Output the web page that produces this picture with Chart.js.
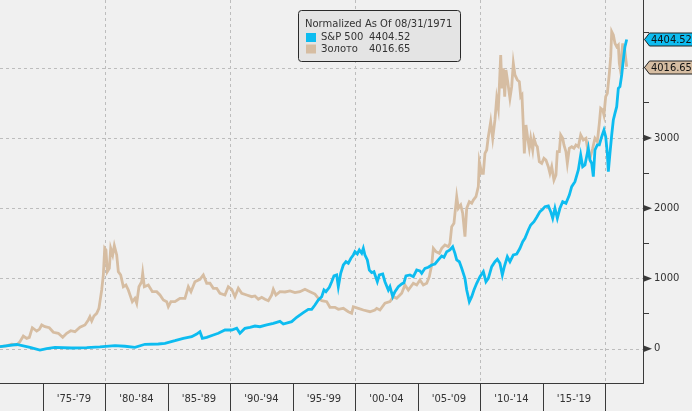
<!DOCTYPE html>
<html>
<head>
<meta charset="utf-8">
<script src="https://cdn.jsdelivr.net/npm/chart.js@4.4.1/dist/chart.umd.min.js"></script>
<style>
html,body{margin:0;padding:0;background:#f0f0f0;}
canvas{display:block;}
</style>
</head>
<body>
<canvas id="c" width="692" height="411"></canvas>
<script>
// ---------- DATA ----------
const legendTitle = 'Normalized As Of 08/31/1971';
const seriesNames = ['S&P 500', 'Золото'];

const spYears = [1971.58,1972.92,1973.98,1974.78,1975.32,1975.98,1977.32,1978.52,1979.58,1980.78,1981.58,1982.38,1983.18,1984.25,1984.78,1985.58,1986.25,1986.92,1987.32,1987.58,1987.77,1988.12,1988.65,1989.05,1989.58,1990.12,1990.52,1990.78,1991.18,1991.58,1991.98,1992.38,1992.92,1993.45,1993.98,1994.25,1994.92,1995.32,1995.85,1996.25,1996.52,1996.78,1997.05,1997.32,1997.50,1997.66,1997.93,1998.12,1998.30,1998.52,1998.65,1998.84,1999.05,1999.26,1999.45,1999.66,1999.85,1999.98,2000.17,2000.33,2000.52,2000.65,2000.78,2000.97,2001.13,2001.32,2001.50,2001.77,2001.93,2002.20,2002.38,2002.65,2002.78,2003.00,2003.18,2003.45,2003.72,2003.90,2004.06,2004.38,2004.65,2004.92,2005.18,2005.32,2005.58,2005.85,2006.12,2006.38,2006.65,2006.92,2007.10,2007.32,2007.58,2007.80,2007.98,2008.12,2008.33,2008.52,2008.78,2008.92,2009.13,2009.32,2009.50,2009.72,2009.98,2010.25,2010.46,2010.65,2010.92,2011.18,2011.37,2011.58,2011.77,2011.93,2012.17,2012.38,2012.65,2012.92,2013.18,2013.40,2013.58,2013.85,2014.04,2014.30,2014.52,2014.78,2015.00,2015.18,2015.45,2015.64,2015.80,2015.98,2016.17,2016.38,2016.60,2016.86,2017.13,2017.32,2017.58,2017.85,2018.04,2018.20,2018.38,2018.65,2018.78,2018.92,2019.05,2019.18,2019.37,2019.53,2019.72,2019.90,2020.04,2020.17,2020.25,2020.38,2020.52,2020.65,2020.78,2020.92,2021.05,2021.18,2021.32,2021.45,2021.58,2021.72];
const spValues = [30,60,20,-20,0,20,10,15,25,45,35,20,63,67,77,114,148,171,209,242,148,162,195,219,266,266,291,219,291,305,323,313,338,362,390,352,385,447,513,561,561,622,694,741,836,812,875,954,1036,1050,883,1074,1192,1239,1217,1288,1335,1382,1349,1406,1359,1430,1335,1264,1121,1083,1097,954,1050,1064,954,836,883,741,812,883,922,940,1036,1050,1026,1121,1107,1074,1145,1160,1192,1207,1264,1321,1302,1382,1406,1453,1359,1264,1239,1145,1003,836,670,741,836,932,1026,1097,954,1003,1168,1239,1274,1217,1050,1168,1310,1239,1335,1349,1430,1524,1573,1691,1762,1809,1872,1952,1986,2023,2033,1952,1858,2000,1858,2000,2094,2071,2189,2308,2379,2546,2759,2593,2617,2855,2688,2641,2450,2830,2902,2902,3020,3115,3020,2783,2521,2783,3044,3258,3353,3447,3709,3732,3899,4113,4302,4404.52];

const goldYears = [1971.58,1972.12,1972.52,1972.92,1973.18,1973.45,1973.72,1973.93,1974.17,1974.52,1974.73,1974.92,1975.18,1975.53,1975.85,1976.25,1976.60,1976.92,1977.24,1977.58,1977.98,1978.38,1978.65,1978.78,1978.92,1979.10,1979.32,1979.50,1979.58,1979.72,1979.85,1979.96,1980.06,1980.17,1980.33,1980.44,1980.60,1980.73,1980.92,1981.05,1981.24,1981.45,1981.66,1981.85,1982.17,1982.38,1982.52,1982.70,1982.92,1983.00,1983.13,1983.45,1983.77,1984.12,1984.38,1984.65,1984.92,1985.05,1985.26,1985.58,1985.98,1986.38,1986.65,1986.86,1987.18,1987.58,1987.85,1988.12,1988.38,1988.65,1988.92,1989.18,1989.58,1989.85,1990.12,1990.38,1990.65,1990.92,1991.32,1991.72,1991.98,1992.25,1992.52,1992.78,1993.05,1993.32,1993.45,1993.66,1993.98,1994.38,1994.78,1995.18,1995.58,1995.98,1996.38,1996.78,1997.05,1997.32,1997.72,1997.98,1998.38,1998.65,1999.05,1999.45,1999.72,1999.85,2000.25,2000.65,2001.18,2001.58,2001.72,2001.98,2002.38,2002.78,2003.05,2003.32,2003.72,2003.98,2004.25,2004.65,2004.92,2005.18,2005.45,2005.72,2005.93,2006.12,2006.25,2006.46,2006.73,2006.92,2007.18,2007.45,2007.58,2007.72,2007.90,2008.12,2008.25,2008.44,2008.60,2008.78,2008.92,2009.13,2009.32,2009.45,2009.66,2009.85,2009.93,2010.12,2010.25,2010.38,2010.52,2010.65,2010.84,2011.00,2011.18,2011.32,2011.45,2011.53,2011.64,2011.74,2011.85,2011.96,2012.06,2012.20,2012.38,2012.52,2012.65,2012.78,2012.97,2013.13,2013.24,2013.34,2013.45,2013.53,2013.66,2013.80,2013.93,2014.04,2014.20,2014.30,2014.46,2014.57,2014.73,2014.92,2015.10,2015.26,2015.45,2015.58,2015.72,2015.90,2016.06,2016.17,2016.33,2016.44,2016.60,2016.70,2016.86,2016.97,2017.13,2017.32,2017.50,2017.66,2017.85,2018.04,2018.25,2018.46,2018.65,2018.78,2019.00,2019.18,2019.37,2019.53,2019.64,2019.80,2019.90,2020.04,2020.17,2020.33,2020.44,2020.52,2020.65,2020.78,2020.92,2021.05,2021.13,2021.24,2021.32,2021.40,2021.50,2021.58,2021.72];
const goldValues = [30,40,63,53,100,181,148,162,299,252,276,338,313,299,234,219,162,219,256,242,305,338,409,456,395,466,504,575,670,836,1050,1430,1406,1097,1145,1430,1335,1467,1335,1097,1050,883,907,836,670,718,647,883,954,1074,883,907,812,812,765,694,670,598,670,670,718,718,883,812,954,989,1050,932,932,860,860,789,765,883,846,741,860,789,765,741,751,704,732,704,684,765,846,765,812,808,822,798,812,846,812,779,718,684,670,590,590,561,575,527,504,598,575,551,527,551,575,551,647,670,741,718,789,907,836,932,907,979,907,932,1026,1192,1430,1382,1359,1430,1477,1453,1501,1738,1786,2165,2000,2047,1929,1595,2000,2094,2071,2118,2165,2308,2664,2499,2499,2783,2830,3020,3234,2997,3258,3567,3424,3732,4184,3709,3994,3590,3970,3803,3567,3732,4065,3899,3828,3803,3590,3614,3162,2783,3187,2997,2855,2997,2830,2997,2902,2877,2664,2641,2712,2688,2593,2499,2593,2403,2474,2806,2806,3044,2997,2902,2806,2641,2855,2877,2855,2902,2877,3044,2973,2997,2783,2712,2855,2997,2949,3211,3424,3400,3329,3590,3638,3923,4160,4516,4469,4350,4302,4326,4065,3946,4184,4350,4160,4231,4016.65];

const periodStarts = [1975,1980,1985,1990,1995,2000,2005,2010,2015];
const periodLabels = ["'75-'79","'80-'84","'85-'89","'90-'94","'95-'99","'00-'04","'05-'09","'10-'14","'15-'19"];
const separatorYears = [1975,1980,1985,1990,1995,2000,2005,2010,2015,2020];
const gridYears = [1980,1990,2000,2010,2020];
const yTickValues = [0,500,1000,1500,2000,2500,3000,3500,4000,4500];
const yTickLabels = ['0','','1000','','2000','','3000','','',''];
const yMajorMarks = [0,1000,2000,3000];
const gridValues = [0,1000,2000,3000,4000];

// ---------- STYLE ----------
const FONT = 'DejaVu Sans';
const FONT_C = '"DejaVu Sans Condensed", "DejaVu Sans"';
const COL_SP = '#0dbcf0';
const COL_GOLD = '#d6bda2';
const TXT = '#333333';
const AXIS = '#3a3a3a';

const toPts = (xs, ys) => xs.map((x, i) => ({x: x, y: ys[i]}));

const decor = {
  id: 'decor',
  beforeDraw(chart) {
    const c = chart.ctx;
    c.save();
    c.fillStyle = '#f0f0f0';
    c.fillRect(0, 0, chart.width, chart.height);
    c.restore();
  },
  beforeDatasetsDraw(chart) {
    const c = chart.ctx, a = chart.chartArea, xs = chart.scales.x, ys = chart.scales.y;
    c.save();
    c.strokeStyle = '#bdbdbd';
    c.lineWidth = 1;
    c.setLineDash([3, 3]);
    gridYears.forEach(v => {
      const px = Math.round(xs.getPixelForValue(v)) + 0.5;
      c.beginPath(); c.moveTo(px, a.top); c.lineTo(px, a.bottom); c.stroke();
    });
    gridValues.forEach(v => {
      const py = Math.round(ys.getPixelForValue(v)) + 0.5;
      c.beginPath(); c.moveTo(a.left, py); c.lineTo(a.right, py); c.stroke();
    });
    c.restore();
  },
  afterDraw(chart) {
    const c = chart.ctx, a = chart.chartArea, xs = chart.scales.x, ys = chart.scales.y;
    c.save();
    // x-axis separators
    c.strokeStyle = AXIS; c.lineWidth = 1;
    separatorYears.forEach(v => {
      const px = Math.round(xs.getPixelForValue(v)) + 0.5;
      c.beginPath(); c.moveTo(px, a.bottom); c.lineTo(px, chart.height); c.stroke();
    });
    // y major arrow marks
    c.fillStyle = AXIS;
    yMajorMarks.forEach(v => {
      const py = ys.getPixelForValue(v);
      c.beginPath(); c.moveTo(a.right, py - 3.5); c.lineTo(a.right + 9, py); c.lineTo(a.right, py + 3.5); c.closePath(); c.fill();
    });
    // last value boxes
    const boxes = [
      {v: goldValues[goldValues.length - 1], col: COL_GOLD},
      {v: spValues[spValues.length - 1], col: COL_SP}
    ];
    c.font = '11px ' + FONT_C;
    c.textBaseline = 'middle';
    boxes.forEach(b => {
      const py = Math.round(ys.getPixelForValue(b.v)) + 0.5;
      const x0 = a.right + 1.5, x1 = a.right + 6.5, x2 = chart.width + 2;
      c.beginPath();
      c.moveTo(x0, py); c.lineTo(x1, py - 6.5); c.lineTo(x2, py - 6.5); c.lineTo(x2, py + 6.5); c.lineTo(x1, py + 6.5); c.closePath();
      c.fillStyle = b.col; c.fill();
      c.strokeStyle = '#222'; c.lineWidth = 1; c.stroke();
      c.fillStyle = '#111';
      c.fillText(b.v.toFixed(2), a.right + 8, py + 0.5);
    });
    // legend box
    const lx = 298.5, ly = 10.5, lw = 162, lh = 51, r = 3;
    c.beginPath();
    c.moveTo(lx + r, ly); c.lineTo(lx + lw - r, ly); c.quadraticCurveTo(lx + lw, ly, lx + lw, ly + r);
    c.lineTo(lx + lw, ly + lh - r); c.quadraticCurveTo(lx + lw, ly + lh, lx + lw - r, ly + lh);
    c.lineTo(lx + r, ly + lh); c.quadraticCurveTo(lx, ly + lh, lx, ly + lh - r);
    c.lineTo(lx, ly + r); c.quadraticCurveTo(lx, ly, lx + r, ly); c.closePath();
    c.fillStyle = '#e4e4e4'; c.fill();
    c.strokeStyle = '#2a2a2a'; c.lineWidth = 1; c.stroke();
    c.font = '10px "' + FONT + '"';
    c.fillStyle = TXT;
    c.textBaseline = 'middle';
    c.fillText(legendTitle, 305, 24);
    const rows = [
      {name: seriesNames[0], v: spValues[spValues.length - 1], col: COL_SP, y: 37.5},
      {name: seriesNames[1], v: goldValues[goldValues.length - 1], col: COL_GOLD, y: 49}
    ];
    rows.forEach(rw => {
      c.fillStyle = rw.col; c.fillRect(306, rw.y - 4.5, 10, 9);
      c.fillStyle = TXT;
      c.fillText(rw.name, 321, rw.y);
      c.fillText(rw.v.toFixed(2), 369, rw.y);
    });
    c.restore();
  }
};

new Chart(document.getElementById('c'), {
  type: 'line',
  data: {
    datasets: [
      {label: seriesNames[0], data: toPts(spYears, spValues), borderColor: COL_SP, borderWidth: 2.8, pointRadius: 0, tension: 0, fill: false},
      {label: seriesNames[1], data: toPts(goldYears, goldValues), borderColor: COL_GOLD, borderWidth: 2.8, pointRadius: 0, tension: 0, fill: false}
    ]
  },
  options: {
    responsive: false,
    devicePixelRatio: 1,
    animation: false,
    layout: {padding: 0},
    plugins: {legend: {display: false}, tooltip: {enabled: false}},
    scales: {
      x: {
        type: 'linear',
        position: 'bottom',
        min: 1971.584,
        max: 2023.024,
        afterBuildTicks: s => { s.ticks = periodStarts.map(v => ({value: v + 2.5})); },
        afterFit: s => { s.height = 28; s.paddingLeft = 0; s.paddingRight = 0; },
        ticks: {
          autoSkip: false,
          maxRotation: 0,
          padding: 10,
          color: TXT,
          font: {family: FONT, size: 10},
          callback: (v, i) => periodLabels[i]
        },
        grid: {display: true, drawOnChartArea: false, drawTicks: false},
        border: {display: true, color: AXIS, width: 1}
      },
      y: {
        type: 'linear',
        position: 'right',
        min: -488.6,
        max: 4967,
        afterBuildTicks: s => { s.ticks = yTickValues.map(v => ({value: v})); },
        afterFit: s => { s.width = 49; s.paddingTop = 0; s.paddingBottom = 0; },
        ticks: {
          autoSkip: false,
          padding: 5,
          color: TXT,
          font: {family: FONT, size: 10},
          callback: (v, i) => yTickLabels[i]
        },
        grid: {display: true, drawOnChartArea: false, drawTicks: true, tickLength: 6, tickColor: AXIS},
        border: {display: true, color: AXIS, width: 1}
      }
    }
  },
  plugins: [decor]
});
</script>
</body>
</html>
